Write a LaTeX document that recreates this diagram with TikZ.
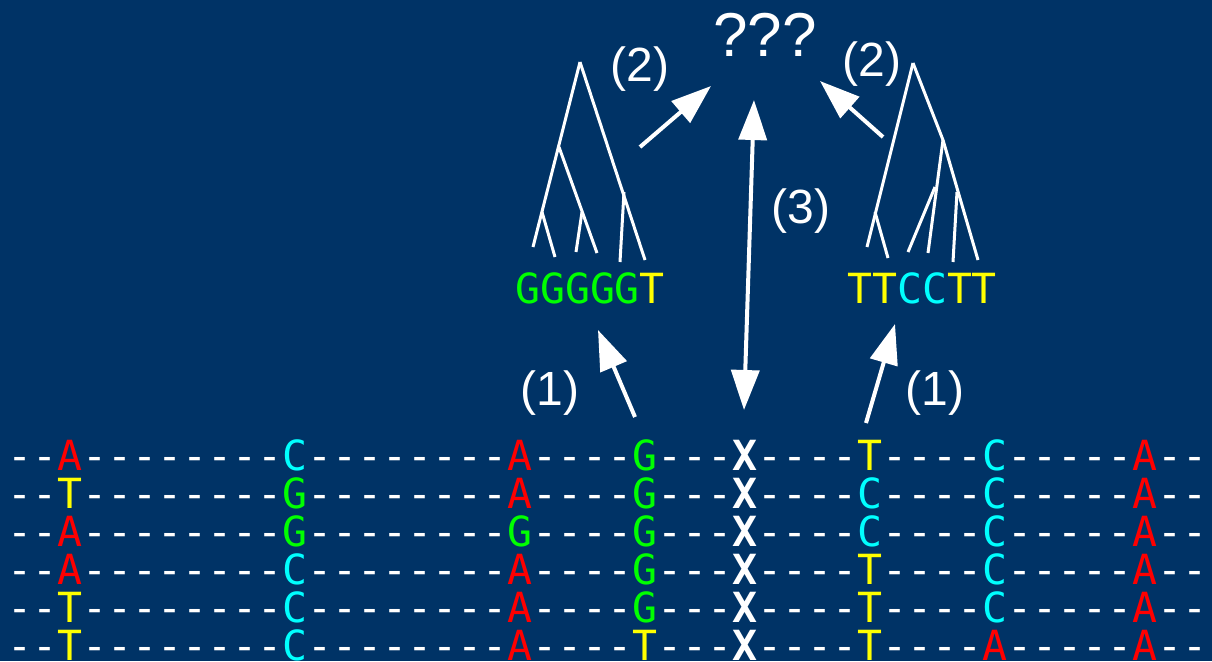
\documentclass[tikz,border=0pt]{standalone}
\usepackage{fontspec}
\setmainfont{Liberation Sans}
\setmonofont{DejaVu Sans Mono}
\usetikzlibrary{arrows.meta}
\definecolor{bg}{RGB}{0,51,102}
\definecolor{bA}{RGB}{255,0,0}
\definecolor{bC}{RGB}{0,255,255}
\definecolor{bG}{RGB}{0,255,0}
\definecolor{bT}{RGB}{255,255,0}
\newcommand{\bA}{\textcolor{bA}{A}}
\newcommand{\bC}{\textcolor{bC}{C}}
\newcommand{\bG}{\textcolor{bG}{G}}
\newcommand{\bT}{\textcolor{bT}{T}}
\newcommand{\bX}{\textbf{X}}
\newcommand{\rowseq}[8]{-{}-#1-{}-{}-{}-{}-{}-{}-{}-#2-{}-{}-{}-{}-{}-{}-{}-#3-{}-{}-{}-#4-{}-{}-#5-{}-{}-{}-#6-{}-{}-{}-#7-{}-{}-{}-{}-#8-{}-}
\begin{document}
\begin{tikzpicture}[x=0.5pt,y=-0.5pt,
  seq/.style={text=white,inner sep=0pt,font=\ttfamily\fontsize{20.76pt}{20.76pt}\selectfont},
  lab/.style={text=white,inner sep=0pt,font=\fontsize{24pt}{24pt}\selectfont},
  big/.style={text=white,inner sep=0pt,font=\fontsize{31pt}{31pt}\selectfont},
  tree/.style={draw=white,line width=1.5pt},
  arr/.style={draw=white,line width=2pt,-{Triangle[length=20pt,width=14pt]}},
  darr/.style={draw=white,line width=2pt,{Triangle[length=20pt,width=14pt]}-{Triangle[length=20pt,width=14pt]}}]
\path[use as bounding box,fill=bg] (0,0) rectangle (1212,661);

% sequence rows
\node[seq,anchor=base west] (r1) at (7.5,470) {\rowseq{\bA}{\bC}{\bA}{\bG}{\bX}{\bT}{\bC}{\bA}};
\node[seq,anchor=base west] (r2) at (7.5,508) {\rowseq{\bT}{\bG}{\bA}{\bG}{\bX}{\bC}{\bC}{\bA}};
\node[seq,anchor=base west] (r3) at (7.5,546) {\rowseq{\bA}{\bG}{\bG}{\bG}{\bX}{\bC}{\bC}{\bA}};
\node[seq,anchor=base west] (r4) at (7.5,584) {\rowseq{\bA}{\bC}{\bA}{\bG}{\bX}{\bT}{\bC}{\bA}};
\node[seq,anchor=base west] (r5) at (7.5,622) {\rowseq{\bT}{\bC}{\bA}{\bG}{\bX}{\bT}{\bC}{\bA}};
\node[seq,anchor=base west] (r6) at (7.5,660) {\rowseq{\bT}{\bC}{\bA}{\bT}{\bX}{\bT}{\bA}{\bA}};

% leaf labels
\node[seq,anchor=base] (tl) at (590,303) {\bG\bG\bG\bG\bG\bT};
\node[seq,anchor=base] (tr) at (922,303) {\bT\bT\bC\bC\bT\bT};

% text labels
\node[big] (q) at (765,35) {???};
\node[lab] (l2a) at (640,69) {(2)};
\node[lab] (l2b) at (872,64) {(2)};
\node[lab] (l3) at (801,211) {(3)};
\node[lab] (l1a) at (550,393) {(1)};
\node[lab] (l1b) at (935,393) {(1)};

% left tree
\coordinate (Lroot) at (580,62);
\coordinate (La) at (559,147);
\coordinate (Lb) at (542,212);
\coordinate (Lc) at (582,212);
\coordinate (Ld) at (624,192);
\coordinate (L1) at (533,247);
\coordinate (L2) at (555,257);
\coordinate (L3) at (576,252);
\coordinate (L4) at (597,253);
\coordinate (L5) at (620,262);
\coordinate (L6) at (645,260);
\draw[tree] (Lroot) -- (L1);
\draw[tree] (Lb) -- (L2);
\draw[tree] (La) -- (L4);
\draw[tree] (Lc) -- (L3);
\draw[tree] (Lroot) -- (L6);
\draw[tree] (Ld) -- (L5);

% right tree
\coordinate (Rroot) at (913,63);
\coordinate (Re) at (943,140);
\coordinate (Rf) at (957,192);
\coordinate (Rg) at (935,187);
\coordinate (Rh) at (875,212);
\coordinate (R1) at (867,247);
\coordinate (R2) at (888,258);
\coordinate (R3) at (908,252);
\coordinate (R4) at (928,253);
\coordinate (R5) at (953,262);
\coordinate (R6) at (978,260);
\draw[tree] (Rroot) -- (R1);
\draw[tree] (Rh) -- (R2);
\draw[tree] (Rroot) -- (Re) -- (R6);
\draw[tree] (Rf) -- (R5);
\draw[tree] (Re) -- (R4);
\draw[tree] (Rg) -- (R3);

% arrows
\coordinate (a1s) at (635,417); \coordinate (a1e) at (598,330);
\coordinate (b1s) at (866,423); \coordinate (b1e) at (895,324);
\coordinate (a3s) at (744,410); \coordinate (a3e) at (754,100);
\coordinate (a2s) at (640,147); \coordinate (a2e) at (711,86);
\coordinate (b2s) at (883,137); \coordinate (b2e) at (820,81);
\draw[arr] (a1s) -- (a1e);
\draw[arr] (b1s) -- (b1e);
\draw[darr] (a3s) -- (a3e);
\draw[arr] (a2s) -- (a2e);
\draw[arr] (b2s) -- (b2e);
\end{tikzpicture}
\end{document}
